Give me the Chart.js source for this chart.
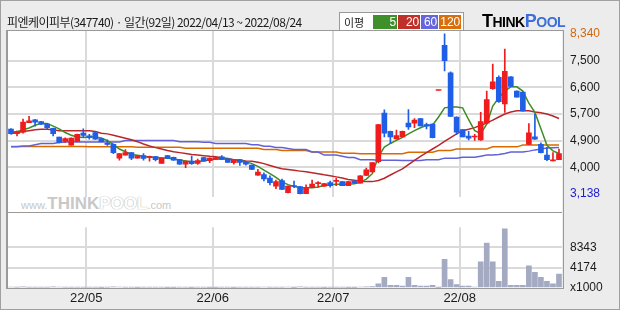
<!DOCTYPE html>
<html>
<head>
<meta charset="utf-8">
<script src="https://cdn.jsdelivr.net/npm/chart.js@4"></script>
<style>
body { margin: 0; }
#wrap { position: relative; width: 620px; height: 310px; background: #ececec; overflow: hidden; font-family: "Noto Sans CJK KR", sans-serif; }
#outer { position: absolute; left: 0; top: 0; width: 618px; height: 308px; border: 1px solid #a0a0a0; }
#plotbg { position: absolute; left: 8px; top: 31px; width: 554px; height: 257px; background: #fff; }
#frame { position: absolute; left: 6px; top: 30px; width: 555px; height: 257px; border: 1px solid #9a9a9a; border-left-width: 2px; }
#divider { position: absolute; left: 7px; top: 212px; width: 555px; height: 1px; background: #9a9a9a; }
#title { position: absolute; left: 7px; top: 13px; font-size: 12px; color: #1a1a1a; letter-spacing: -0.55px; white-space: nowrap; }
#legend { position: absolute; left: 339px; top: 12px; height: 17px; padding: 0 2px 0 4px; border: 1px solid #9a9a9a; background: #fff; display: flex; align-items: center; font-size: 11px; }
#legend .k { margin-right: 8px; color: #1a1a1a; }
#legend .b { color: #fff; height: 14px; line-height: 14px; text-align: right; padding: 0 1px; margin-left: 1px; font-family: "Liberation Sans", sans-serif; font-size: 12px; }
#logo { position: absolute; left: 482px; top: 11px; font-family: "Liberation Sans", sans-serif; font-weight: bold; font-size: 14px; letter-spacing: -0.5px; }
#logo .t { font-size: 18px; }
#logo .p { color: #3d6fdb; }
#wm { position: absolute; left: 21px; top: 194px; font-family: "Liberation Sans", sans-serif; color: #c8c8c8; white-space: nowrap; }
#wm .s { font-size: 11px; }
#wm .big { font-size: 17px; font-weight: bold; }
#wm .o { color: #fff; text-shadow: 0 0 1px #b0b0b0, 0 0 1px #b0b0b0; }
canvas { position: absolute; left: 0; }
#priceCanvas { top: 0; }
#volCanvas { top: 212px; }
</style>
</head>
<body>
<div id="wrap">
  <div id="plotbg"></div>
  <div id="wm"><span class="s">www.</span><span class="big">THINK</span><span class="big o">POOL</span><span class="s">.com</span></div>
  <canvas id="priceCanvas" width="620" height="212"></canvas>
  <canvas id="volCanvas" width="620" height="98"></canvas>
  <div id="frame"></div>
  <div id="divider"></div>
  <div id="outer"></div>
  <div id="title">피엔케이피부(347740) · 일간(92일) 2022/04/13 ~ 2022/08/24</div>
  <div id="legend"><span class="k">이평</span><span class="b" style="background:#3f8f2a;width:22px">5</span><span class="b" style="background:#c0302a;width:20px">20</span><span class="b" style="background:#6565dd;width:15px">60</span><span class="b" style="background:#d96f0a;width:20px">120</span></div>
  <div id="logo"><span class="t">T</span>HINK<span class="p"><span class="t">P</span>OOL</span></div>
</div>
<script>
const DATES = [
    '22/04/13', '22/04/14', '22/04/15', '22/04/18', '22/04/19', '22/04/20', '22/04/21', '22/04/22', '22/04/25', '22/04/26', '22/04/27', '22/04/28', '22/04/29',
    '22/05/02', '22/05/03', '22/05/04', '22/05/06', '22/05/09', '22/05/10', '22/05/11', '22/05/12', '22/05/13', '22/05/16', '22/05/17', '22/05/18', '22/05/19', '22/05/20', '22/05/23', '22/05/24', '22/05/25', '22/05/26', '22/05/27', '22/05/30', '22/05/31',
    '22/06/02', '22/06/03', '22/06/07', '22/06/08', '22/06/09', '22/06/10', '22/06/13', '22/06/14', '22/06/15', '22/06/16', '22/06/17', '22/06/20', '22/06/21', '22/06/22', '22/06/23', '22/06/24', '22/06/27', '22/06/28', '22/06/29', '22/06/30',
    '22/07/01', '22/07/04', '22/07/05', '22/07/06', '22/07/07', '22/07/08', '22/07/11', '22/07/12', '22/07/13', '22/07/14', '22/07/15', '22/07/18', '22/07/19', '22/07/20', '22/07/21', '22/07/22', '22/07/25', '22/07/26', '22/07/27', '22/07/28', '22/07/29',
    '22/08/01', '22/08/02', '22/08/03', '22/08/04', '22/08/05', '22/08/08', '22/08/09', '22/08/10', '22/08/11', '22/08/12', '22/08/16', '22/08/17', '22/08/18', '22/08/19', '22/08/22', '22/08/23', '22/08/24'
];

const OPEN = [
    5244, 5095, 5143, 5452, 5550, 5491, 5410, 5274, 4986, 4846,
    4727, 4846, 5113, 5024, 5134, 4935, 4760, 4748, 4303, 4401,
    4481, 4303, 4383, 4325, 4353, 4133, 4383, 4332, 4252, 4103,
    4204, 4133, 4323, 4222, 4264, 4341, 4282, 4154, 4252, 4184,
    4074, 3747, 3768, 3658, 3391, 3569, 3182, 3390, 3381, 3150,
    3343, 3475, 3391, 3509, 3545, 3539, 3411, 3560, 3491, 3738,
    3857, 4184, 5767, 5173, 4926, 4995, 5440, 5440, 5589, 5393,
    5410, 6500, 7966, 7074, 5639, 5232, 5015, 4990, 4896, 5440,
    6560, 6926, 6064, 6947, 6480, 6450, 4748, 4995, 4748, 4401,
    4215, 4252
];
const HIGH = [
    5262, 5180, 5571, 5660, 5560, 5500, 5420, 5280, 4990, 4965,
    4960, 5080, 5253, 5075, 5140, 4940, 4896, 4760, 4460, 4578,
    4490, 4390, 4451, 4371, 4360, 4310, 4390, 4340, 4260, 4210,
    4371, 4273, 4330, 4310, 4330, 4383, 4290, 4260, 4260, 4190,
    4080, 3937, 3827, 3729, 3589, 3619, 3400, 3560, 3390, 3432,
    3589, 3539, 3485, 3560, 3650, 3545, 3545, 3565, 3735, 3976,
    4160, 5400, 5868, 5180, 5214, 5180, 5877, 5589, 5595, 5440,
    5415, 6500, 8340, 7104, 5645, 5240, 5173, 5075, 5788, 6480,
    7354, 6976, 7847, 6950, 6490, 6455, 5422, 5737, 4798, 4650,
    4481, 4599
];
const LOW = [
    5080, 5024, 5113, 5452, 5342, 5390, 5244, 5024, 4800, 4816,
    4720, 4840, 4995, 4917, 4910, 4830, 4718, 4451, 4234, 4395,
    4252, 4300, 4234, 4204, 4213, 4130, 4290, 4230, 4100, 3996,
    4094, 4094, 4200, 4154, 4260, 4260, 4160, 4103, 4065, 4074,
    3930, 3740, 3560, 3432, 3313, 3280, 3175, 3343, 3138, 3145,
    3340, 3361, 3385, 3361, 3411, 3405, 3405, 3485, 3485, 3730,
    3850, 4150, 4995, 4778, 4920, 4990, 5238, 5292, 5345, 5253,
    4960, 6500, 7134, 5655, 5075, 4990, 4896, 4876, 4876, 5410,
    6531, 6115, 5788, 6620, 6280, 5830, 4740, 4910, 4475, 4222,
    4210, 4250
];
const CLOSE = [
    5095, 5164, 5470, 5512, 5470, 5402, 5292, 5095, 4816, 4935,
    4956, 5075, 5036, 4977, 4917, 4837, 4748, 4481, 4451, 4481,
    4303, 4383, 4294, 4335, 4252, 4303, 4294, 4234, 4103, 4204,
    4124, 4222, 4204, 4303, 4323, 4264, 4163, 4252, 4163, 4103,
    3937, 3848, 3628, 3509, 3539, 3283, 3391, 3381, 3150, 3352,
    3462, 3479, 3479, 3411, 3551, 3411, 3539, 3491, 3729, 3925,
    4154, 5393, 5113, 4995, 5036, 5173, 5313, 5535, 5351, 5342,
    4965, 6500, 7472, 5660, 5143, 4995, 4947, 4995, 5491, 6204,
    6777, 6135, 7125, 6629, 6284, 5838, 5125, 4917, 4481, 4252,
    4222, 4451
];

const MA5 = [
    5134, 5164, 5223, 5280, 5370, 5431, 5431, 5342, 5253, 5134,
    5045, 4986, 4971, 4986, 4986, 4956, 4867, 4748, 4599, 4510,
    4421, 4392, 4362, 4332, 4332, 4303, 4303, 4273, 4243, 4213,
    4184, 4184, 4213, 4243, 4273, 4273, 4273, 4243, 4228, 4184,
    4124, 4035, 3916, 3797, 3678, 3530, 3441, 3381, 3352, 3337,
    3337, 3367, 3411, 3441, 3456, 3456, 3456, 3471, 3515, 3619,
    3797, 4350, 4659, 4778, 4880, 4977, 5090, 5194, 5290, 5372,
    5372, 5640, 5936, 5966, 5966, 5936, 5550, 5194, 5104, 5402,
    5996, 6263, 6480, 6620, 6620, 6480, 6085, 5788, 5253, 4718,
    4540, 4451
];
const MA20 = [
    5096, 5134, 5164, 5194, 5223, 5244, 5238, 5223, 5194, 5194,
    5194, 5194, 5194, 5194, 5164, 5113, 5090, 5045, 4995, 4947,
    4897, 4837, 4763, 4697, 4644, 4599, 4549, 4510, 4481, 4451,
    4421, 4400, 4383, 4362, 4347, 4317, 4287, 4252, 4234, 4213,
    4204, 4169, 4124, 4065, 4005, 3955, 3931, 3907, 3880, 3857,
    3827, 3797, 3759, 3729, 3693, 3658, 3610, 3580, 3551, 3539,
    3539, 3574, 3649, 3753, 3857, 3955, 4094, 4228, 4362, 4481,
    4599, 4718, 4846, 4971, 5090, 5194, 5238, 5292, 5372, 5440,
    5535, 5639, 5737, 5803, 5838, 5838, 5838, 5803, 5773, 5737,
    5669, 5589
];
const MA60 = [
    4668, 4674, 4697, 4697, 4739, 4778, 4778, 4778, 4807, 4828,
    4828, 4828, 4828, 4828, 4828, 4828, 4828, 4828, 4828, 4876,
    4876, 4876, 4876, 4876, 4876, 4876, 4876, 4876, 4837, 4837,
    4837, 4837, 4816, 4816, 4778, 4778, 4778, 4778, 4778, 4778,
    4739, 4739, 4689, 4689, 4650, 4650, 4614, 4579, 4579, 4579,
    4501, 4501, 4400, 4400, 4400, 4362, 4323, 4323, 4252, 4252,
    4252, 4234, 4234, 4234, 4234, 4222, 4222, 4222, 4222, 4252,
    4252, 4252, 4302, 4302, 4302, 4332, 4332, 4332, 4365, 4400,
    4400, 4420, 4451, 4501, 4501, 4501, 4530, 4570, 4600, 4629,
    4640, 4650
];
const MA120 = [
    4680, 4680, 4680, 4680, 4680, 4680, 4680, 4680, 4680, 4680,
    4680, 4680, 4680, 4668, 4668, 4668, 4668, 4668, 4668, 4668,
    4668, 4655, 4655, 4655, 4655, 4655, 4655, 4655, 4655, 4620,
    4620, 4620, 4620, 4620, 4620, 4620, 4620, 4620, 4620, 4620,
    4620, 4620, 4579, 4579, 4579, 4549, 4549, 4549, 4549, 4549,
    4501, 4501, 4501, 4501, 4501, 4460, 4460, 4460, 4445, 4445,
    4445, 4445, 4445, 4445, 4445, 4445, 4495, 4495, 4495, 4495,
    4495, 4549, 4549, 4549, 4599, 4599, 4599, 4599, 4599, 4599,
    4668, 4668, 4668, 4668, 4668, 4727, 4727, 4727, 4727, 4727,
    4727, 4727
];

// volume in thousands of shares
const VOLUME = [
    210, 180, 260, 190, 170, 150, 160, 220, 200, 180,
    170, 190, 160, 150, 180, 140, 150, 230, 200, 160,
    150, 140, 170, 160, 150, 180, 130, 140, 170, 150,
    140, 160, 150, 130, 140, 150, 160, 140, 150, 170,
    190, 180, 210, 170, 160, 150, 200, 140, 230, 180,
    160, 150, 140, 170, 160, 150, 140, 130, 200, 260,
    300, 884, 2218, 550, 550, 384, 2218, 550, 384, 384,
    550, 120, 5888, 1718, 717, 384, 384, 200, 5388, 9224,
    5388, 1385, 12200, 550, 550, 550, 4554, 3219, 2218, 1385,
    884, 2886
];

const PRICE_TICKS = [3138, 4005, 4872, 5739, 6606, 7473, 8340];
const PRICE_LABELS = ['3,138', '4,000', '4,900', '5,700', '6,600', '7,500', '8,340'];
const VOL_TICKS = [0, 4174, 8343];
const VOL_LABELS = ['x1000', '4174', '8343'];

const UP = '#ee1c1c';
const DOWN = '#1f5ee6';
const GRID = '#dadada';

Chart.defaults.font.family = "'Liberation Sans', sans-serif";
Chart.defaults.font.size = 12;

const isMonthStart = i => i > 0 && i < DATES.length && DATES[i].slice(0, 5) !== DATES[i - 1].slice(0, 5);

function xScale(showLabels) {
    return {
        offset: true,
        grid: {
            offset: true,
            drawTicks: false,
            lineWidth: 2,
            color: ctx => isMonthStart(ctx.index) ? GRID : 'rgba(0,0,0,0)'
        },
        border: { display: false },
        ticks: {
            display: showLabels,
            autoSkip: false,
            maxRotation: 0,
            labelOffset: -3,
            padding: 3,
            color: '#1a1a1a',
            font: { size: 13 },
            callback: (v, i) => isMonthStart(i) ? DATES[i].slice(0, 5) : ''
        },
        afterFit: s => { s.height = showLabels ? 22 : 0; }
    };
}

const candleColors = OPEN.map((o, i) => CLOSE[i] >= o ? UP : DOWN);

function maLine(data, color) {
    return {
        type: 'line',
        data: data,
        borderColor: color,
        borderWidth: 1.5,
        pointRadius: 0,
        tension: 0,
        order: 2
    };
}

new Chart(document.getElementById('priceCanvas'), {
    type: 'bar',
    data: {
        labels: DATES,
        datasets: [
            {
                data: OPEN.map((o, i) => [o, CLOSE[i]]),
                backgroundColor: candleColors,
                barThickness: 5,
                minBarLength: 1,
                grouped: false,
                order: 0
            },
            {
                data: LOW.map((l, i) => [l, HIGH[i]]),
                backgroundColor: candleColors,
                barThickness: 1,
                grouped: false,
                order: 1
            },
            maLine(MA5, '#3d8c26'),
            maLine(MA20, '#b8282a'),
            maLine(MA60, '#6262d8'),
            maLine(MA120, '#d86b00')
        ]
    },
    options: {
        responsive: false,
        devicePixelRatio: 1,
        animation: false,
        layout: { padding: { top: 31, left: 8, right: 0, bottom: 0 } },
        plugins: { legend: { display: false }, tooltip: { enabled: false } },
        scales: {
            x: xScale(false),
            y: {
                position: 'right',
                min: 3046,
                max: 8432,
                afterBuildTicks: s => { s.ticks = PRICE_TICKS.map(v => ({ value: v })); },
                afterFit: s => { s.width = 58; },
                grid: {
                    drawTicks: false,
                    lineWidth: 2,
                    color: ctx => (ctx.index === 0 || ctx.index === PRICE_TICKS.length - 1) ? 'rgba(0,0,0,0)' : GRID
                },
                border: { display: false },
                ticks: {
                    padding: 8,
                    callback: (v, i) => PRICE_LABELS[i],
                    color: ctx => ctx.index === PRICE_TICKS.length - 1 ? '#d0690e' : (ctx.index === 0 ? '#1c1cd0' : '#1a1a1a')
                }
            }
        }
    }
});

new Chart(document.getElementById('volCanvas'), {
    type: 'bar',
    data: {
        labels: DATES,
        datasets: [{
            data: VOLUME,
            backgroundColor: '#a3aac2',
            barThickness: 5
        }]
    },
    options: {
        responsive: false,
        devicePixelRatio: 1,
        animation: false,
        layout: { padding: { top: 0, left: 8, right: 0, bottom: 0 } },
        plugins: { legend: { display: false }, tooltip: { enabled: false } },
        scales: {
            x: xScale(true),
            y: {
                position: 'right',
                min: 0,
                max: 12514,
                afterBuildTicks: s => { s.ticks = VOL_TICKS.map(v => ({ value: v })); },
                afterFit: s => { s.width = 58; },
                grid: {
                    drawTicks: false,
                    lineWidth: 2,
                    color: ctx => ctx.index === 0 ? 'rgba(0,0,0,0)' : GRID
                },
                border: { display: false },
                ticks: {
                    padding: 8,
                    color: '#1a1a1a',
                    callback: (v, i) => VOL_LABELS[i]
                }
            }
        }
    }
});
</script>
</body>
</html>
